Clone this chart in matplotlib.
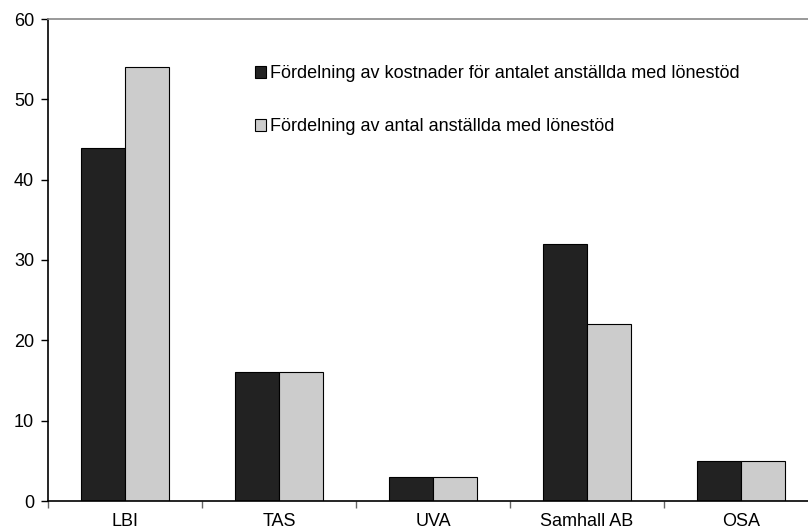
import matplotlib
matplotlib.use("Agg")
import matplotlib.pyplot as plt
import numpy as np

plt.rcParams["font.family"] = ["Liberation Sans", "DejaVu Sans"]

categories = ["LBI", "TAS", "UVA", "Samhall AB", "OSA"]
kostnader = [44, 16, 3, 32, 5]
anstallda = [54, 16, 3, 22, 5]
labels = [
    "Fördelning av kostnader för antalet anställda med lönestöd",
    "Fördelning av antal anställda med lönestöd",
]

fs = 13

fig = plt.figure(figsize=(8.08, 5.31), dpi=100)
# axes runs slightly past the right edge, as in the original
ax = fig.add_axes([48 / 808, 1 - 501 / 531, 770 / 808, 482 / 531])

x = np.arange(len(categories))
w = 0.286
ax.bar(x - w / 2, kostnader, w, color="#222222", edgecolor="black", linewidth=0.8, label=labels[0])
ax.bar(x + w / 2, anstallda, w, color="#cccccc", edgecolor="black", linewidth=0.8, label=labels[1])

ax.set_xlim(-0.5, len(categories) - 0.5)
ax.set_ylim(0, 60)
ax.set_yticks(range(0, 61, 10))
ax.set_xticks(x)
ax.set_xticklabels(categories)
ax.set_xticks(np.arange(-0.5, len(categories)), minor=True)
ax.tick_params(axis="x", which="major", length=0, pad=8.5, labelsize=fs)
ax.tick_params(axis="x", which="minor", length=5, color="#666666", width=1)
ax.tick_params(axis="y", length=5, width=1, pad=5, labelsize=fs)

ax.spines["right"].set_visible(False)
ax.spines["top"].set_color("#888888")
ax.spines["top"].set_linewidth(1.2)
ax.spines["left"].set_linewidth(1.2)
ax.spines["bottom"].set_linewidth(1.2)

ax.legend(loc="upper left", bbox_to_anchor=(248 / 808, 1 - 58 / 531),
          bbox_transform=fig.transFigure, frameon=False, fontsize=fs,
          handlelength=0.6, handleheight=0.6, handletextpad=0.2,
          labelspacing=2.0, borderaxespad=0)

fig.savefig("out.png", dpi=100)
